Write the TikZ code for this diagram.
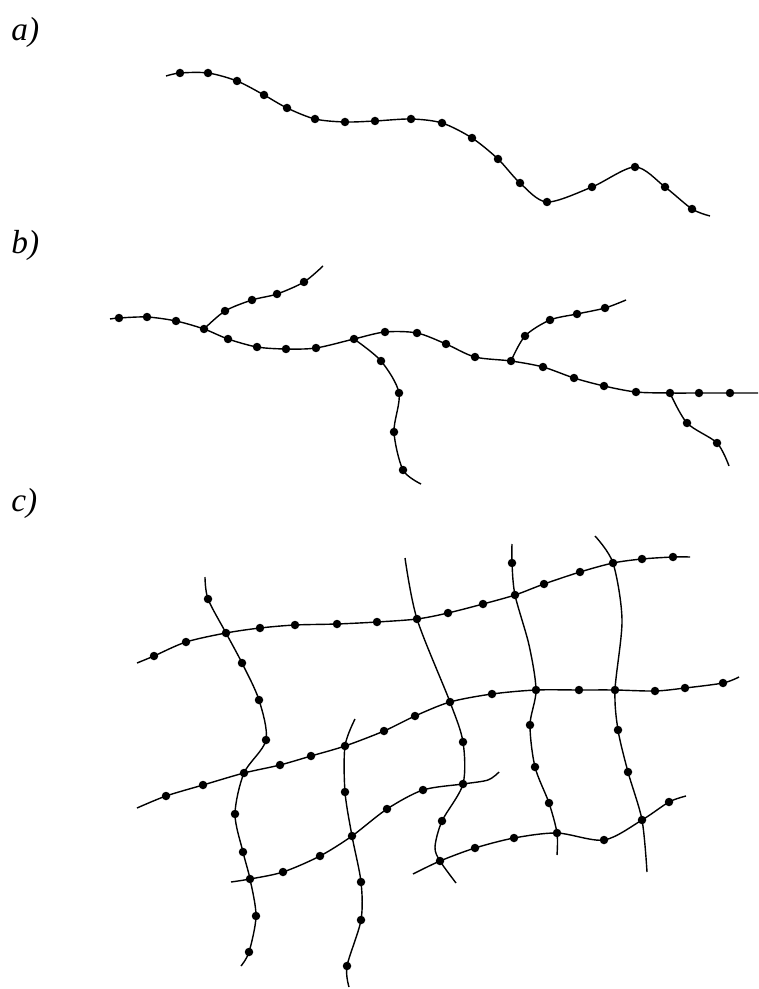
\documentclass[tikz,border=0pt]{standalone}
\usepackage{fontspec}
\setmainfont{Liberation Serif}
\usetikzlibrary{positioning,calc}
\tikzstyle{bead} = [circle, fill=black, inner sep=0pt, minimum size=0.17cm]
\tikzstyle{curve} = [line width=0.8pt, black]
\tikzstyle{partlabel} = [font=\fontsize{19}{21}\selectfont\itshape, inner sep=0pt, anchor=west]

\begin{document}
\begin{tikzpicture}[x=0.02cm, y=-0.02cm]
\useasboundingbox (0,0) rectangle (758,989);

% BESCHRIFTUNG
\node (la) [partlabel] at (11,32) {a)};
\node (lb) [partlabel] at (11,245) {b)};
\node (lc) [partlabel] at (11,503) {c)};

% TEIL a) - einzelne Kette
\coordinate (a0) at (166,76);
\coordinate (a1) at (180,73);
\coordinate (a2) at (208,73);
\coordinate (a3) at (237,81);
\coordinate (a4) at (264,95);
\coordinate (a5) at (287,108);
\coordinate (a6) at (315,119);
\coordinate (a7) at (345,122);
\coordinate (a8) at (375,121);
\coordinate (a9) at (411,119);
\coordinate (a10) at (442,123);
\coordinate (a11) at (472,138);
\coordinate (a12) at (498,159);
\coordinate (a13) at (520,183);
\coordinate (a14) at (547,202);
\coordinate (a15) at (592,187);
\coordinate (a16) at (635,167);
\coordinate (a17) at (665,187);
\coordinate (a18) at (692,209);
\coordinate (a19) at (710,216);

\draw [curve] plot[smooth] coordinates {(a0) (a1) (a2) (a3) (a4) (a5) (a6) (a7) (a8) (a9)
  (a10) (a11) (a12) (a13) (a14) (a15) (a16) (a17) (a18) (a19)};
\foreach \p in {a1,a2,a3,a4,a5,a6,a7,a8,a9,a10,a11,a12,a13,a14,a15,a16,a17,a18}
  \node (d-\p) [bead] at (\p) {};

% TEIL b) - verzweigte Kette
% Hauptstrang
\coordinate (bt0) at (110,319);
\coordinate (bt1) at (119,318);
\coordinate (bt2) at (147,317);
\coordinate (bt3) at (176,321);
\coordinate (bj1) at (204,329);
\coordinate (bt4) at (228,339);
\coordinate (bt5) at (257,347);
\coordinate (bt6) at (286,349);
\coordinate (bt7) at (316,348);
\coordinate (bj2) at (354,339);
\coordinate (bt8) at (385,332);
\coordinate (bt9) at (417,333);
\coordinate (bt10) at (446,344);
\coordinate (bt11) at (475,357);
\coordinate (bj3) at (511,361);
\coordinate (bt12) at (543,367);
\coordinate (bt13) at (574,378);
\coordinate (bt14) at (604,386);
\coordinate (bt15) at (636,392);
\coordinate (bj4) at (670,393);
\coordinate (bt16) at (699,393);
\coordinate (bt17) at (730,393);
\coordinate (bt18) at (758,393);
% Seitenzweige
\coordinate (bu1) at (225,311);
\coordinate (bu2) at (252,300);
\coordinate (bu3) at (277,294);
\coordinate (bu4) at (304,282);
\coordinate (bu5) at (323,266);
\coordinate (bd1) at (381,361);
\coordinate (bd2) at (399,393);
\coordinate (bd3) at (394,432);
\coordinate (bd4) at (403,470);
\coordinate (bd5) at (421,484);
\coordinate (bv1) at (525,336);
\coordinate (bv2) at (550,320);
\coordinate (bv3) at (577,314);
\coordinate (bv4) at (605,308);
\coordinate (bv5) at (626,300);
\coordinate (bw1) at (687,423);
\coordinate (bw2) at (717,443);
\coordinate (bw3) at (729,466);

\draw [curve] plot[smooth] coordinates {(bt0) (bt1) (bt2) (bt3) (bj1) (bt4) (bt5) (bt6) (bt7)
  (bj2) (bt8) (bt9) (bt10) (bt11) (bj3) (bt12) (bt13) (bt14) (bt15) (bj4) (bt16) (bt17) (bt18)};
\draw [curve] plot[smooth] coordinates {(bj1) (bu1) (bu2) (bu3) (bu4) (bu5)};
\draw [curve] plot[smooth] coordinates {(bj2) (bd1) (bd2) (bd3) (bd4) (bd5)};
\draw [curve] plot[smooth] coordinates {(bj3) (bv1) (bv2) (bv3) (bv4) (bv5)};
\draw [curve] plot[smooth] coordinates {(bj4) (bw1) (bw2) (bw3)};
\foreach \p in {bt1,bt2,bt3,bj1,bt4,bt5,bt6,bt7,bj2,bt8,bt9,bt10,bt11,bj3,bt12,bt13,bt14,bt15,
  bj4,bt16,bt17,bu1,bu2,bu3,bu4,bd1,bd2,bd3,bd4,bv1,bv2,bv3,bv4,bw1,bw2}
  \node (d-\p) [bead] at (\p) {};

% TEIL c) - Netzwerk
% Knotenpunkte
\coordinate (j11) at (226,633);
\coordinate (j12) at (417,619);
\coordinate (j13) at (515,595);
\coordinate (j14) at (613,563);
\coordinate (j21) at (244,773);
\coordinate (j22) at (345,746);
\coordinate (j23) at (450,702);
\coordinate (j24) at (536,690);
\coordinate (j25) at (615,690);
\coordinate (j31) at (250,879);
\coordinate (j32) at (352,836);
\coordinate (j33) at (463,784);
\coordinate (j41) at (440,861);
\coordinate (j42) at (557,833);
\coordinate (j43) at (642,820);

% waagerechte Ketten
\coordinate (h1s) at (137,663);
\coordinate (h1a) at (154,656);
\coordinate (h1b) at (186,642);
\coordinate (h1c) at (260,628);
\coordinate (h1d) at (295,625);
\coordinate (h1e) at (337,624);
\coordinate (h1f) at (377,622);
\coordinate (h1g) at (448,613);
\coordinate (h1h) at (483,604);
\coordinate (h1i) at (544,584);
\coordinate (h1j) at (580,572);
\coordinate (h1k) at (642,559);
\coordinate (h1l) at (673,557);
\coordinate (h1e2) at (690,557);

\coordinate (h2s) at (137,808);
\coordinate (h2a) at (166,796);
\coordinate (h2b) at (203,785);
\coordinate (h2c) at (280,765);
\coordinate (h2d) at (311,756);
\coordinate (h2e) at (384,731);
\coordinate (h2f) at (415,716);
\coordinate (h2g) at (492,694);
\coordinate (h2h) at (579,690);
\coordinate (h2i) at (655,691);
\coordinate (h2j) at (685,688);
\coordinate (h2k) at (723,683);
\coordinate (h2e2) at (739,677);

\coordinate (h3s) at (231,882);
\coordinate (h3a) at (283,872);
\coordinate (h3b) at (320,856);
\coordinate (h3c) at (387,809);
\coordinate (h3d) at (423,790);
\coordinate (h3m) at (488,780);
\coordinate (h3e2) at (499,772);

\coordinate (h4s) at (413,874);
\coordinate (h4a) at (475,848);
\coordinate (h4b) at (514,838);
\coordinate (h4c) at (604,840);
\coordinate (h4d) at (669,802);
\coordinate (h4e2) at (686,796);

% senkrechte Ketten
\coordinate (v1s) at (205,577);
\coordinate (v1a) at (208,599);
\coordinate (v1b) at (242,663);
\coordinate (v1c) at (259,700);
\coordinate (v1d) at (266,740);
\coordinate (v1e) at (235,814);
\coordinate (v1f) at (243,852);
\coordinate (v1g) at (256,916);
\coordinate (v1h) at (249,952);
\coordinate (v1e2) at (241,966);

\coordinate (v2s) at (405,558);
\coordinate (v2a) at (463,742);
\coordinate (v2b) at (442,821);
\coordinate (v2m) at (435,847);
\coordinate (v2e2) at (456,883);

\coordinate (v3s) at (355,719);
\coordinate (v3a) at (345,792);
\coordinate (v3b) at (361,882);
\coordinate (v3c) at (361,920);
\coordinate (v3d) at (347,966);
\coordinate (v3e2) at (349,987);

\coordinate (v4s) at (512,544);
\coordinate (v4a) at (512,563);
\coordinate (v4m) at (529,645);
\coordinate (v4b) at (530,725);
\coordinate (v4c) at (535,767);
\coordinate (v4d) at (549,803);
\coordinate (v4e2) at (557,855);

\coordinate (v5s) at (595,536);
\coordinate (v5m) at (622,620);
\coordinate (v5a) at (618,730);
\coordinate (v5b) at (628,772);
\coordinate (v5e2) at (647,872);

\draw [curve] plot[smooth] coordinates {(h1s) (h1a) (h1b) (j11) (h1c) (h1d) (h1e) (h1f) (j12)
  (h1g) (h1h) (j13) (h1i) (h1j) (j14) (h1k) (h1l) (h1e2)};
\draw [curve] plot[smooth] coordinates {(h2s) (h2a) (h2b) (j21) (h2c) (h2d) (j22) (h2e) (h2f)
  (j23) (h2g) (j24) (h2h) (j25) (h2i) (h2j) (h2k) (h2e2)};
\draw [curve] plot[smooth] coordinates {(h3s) (j31) (h3a) (h3b) (j32) (h3c) (h3d) (j33) (h3m) (h3e2)};
\draw [curve] plot[smooth] coordinates {(h4s) (j41) (h4a) (h4b) (j42) (h4c) (j43) (h4d) (h4e2)};

\draw [curve] plot[smooth] coordinates {(v1s) (v1a) (j11) (v1b) (v1c) (v1d) (j21) (v1e) (v1f)
  (j31) (v1g) (v1h) (v1e2)};
\draw [curve] plot[smooth] coordinates {(v2s) (j12) (j23) (v2a) (j33) (v2b) (v2m) (j41) (v2e2)};
\draw [curve] plot[smooth] coordinates {(v3s) (j22) (v3a) (j32) (v3b) (v3c) (v3d) (v3e2)};
\draw [curve] plot[smooth] coordinates {(v4s) (v4a) (j13) (v4m) (j24) (v4b) (v4c) (v4d) (j42) (v4e2)};
\draw [curve] plot[smooth] coordinates {(v5s) (j14) (v5m) (j25) (v5a) (v5b) (j43) (v5e2)};

\foreach \p in {j11,j12,j13,j14,j21,j22,j23,j24,j25,j31,j32,j33,j41,j42,j43,
  h1a,h1b,h1c,h1d,h1e,h1f,h1g,h1h,h1i,h1j,h1k,h1l,
  h2a,h2b,h2c,h2d,h2e,h2f,h2g,h2h,h2i,h2j,h2k,
  h3a,h3b,h3c,h3d,h4a,h4b,h4c,h4d,
  v1a,v1b,v1c,v1d,v1e,v1f,v1g,v1h,v2a,v2b,v3a,v3b,v3c,v3d,
  v4a,v4b,v4c,v4d,v5a,v5b}
  \node (d-\p) [bead] at (\p) {};

\end{tikzpicture}
\end{document}
